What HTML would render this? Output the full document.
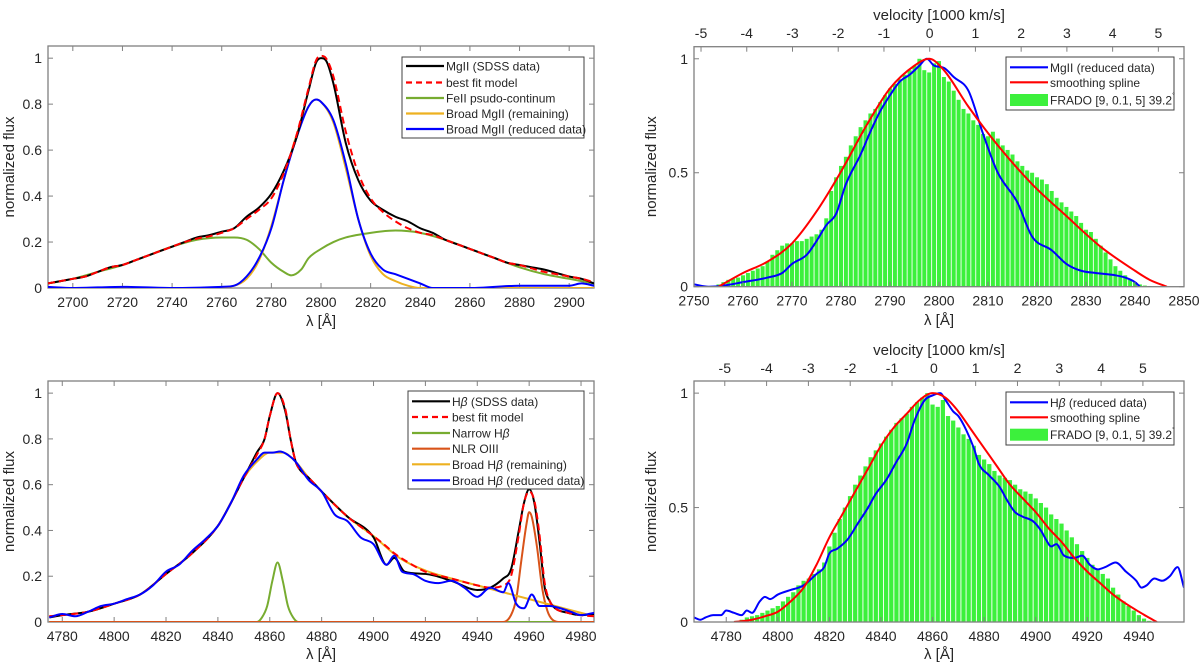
<!DOCTYPE html>
<html><head><meta charset="utf-8">
<style>
html,body{margin:0;padding:0;background:#fff;}
svg{display:block;font-family:"Liberation Sans",Arial,sans-serif;}
</style></head>
<body>
<svg id="fig" width="1200" height="663" viewBox="0 0 1200 663" xmlns="http://www.w3.org/2000/svg"></svg>
<script>
// ---------- Panel A: MgII fit ----------
const mgSdssX=[2690,2695,2700,2705,2710,2715,2720,2725,2730,2735,2740,2745,2750,2755,2760,2765,2770,2775,2780,2785,2790,2795,2798,2800,2802,2805,2810,2815,2820,2825,2830,2835,2840,2845,2850,2855,2860,2865,2870,2875,2880,2885,2890,2895,2900,2905,2910];
const mgSdssY=[0.02,0.03,0.04,0.05,0.07,0.09,0.10,0.12,0.14,0.16,0.18,0.20,0.22,0.23,0.245,0.26,0.31,0.35,0.41,0.51,0.65,0.86,0.98,1.0,0.99,0.89,0.63,0.47,0.38,0.34,0.31,0.29,0.26,0.24,0.21,0.19,0.17,0.15,0.13,0.11,0.10,0.09,0.08,0.065,0.05,0.04,0.02];
const mgFitY=[0.02,0.03,0.04,0.05,0.07,0.09,0.10,0.12,0.14,0.16,0.18,0.20,0.215,0.225,0.24,0.26,0.30,0.34,0.39,0.50,0.66,0.87,0.99,1.01,1.0,0.92,0.68,0.50,0.39,0.33,0.29,0.26,0.24,0.23,0.21,0.19,0.17,0.15,0.13,0.11,0.10,0.085,0.07,0.06,0.05,0.04,0.025];
const mgFeX=[2690,2700,2710,2720,2730,2740,2750,2760,2765,2770,2775,2780,2785,2788,2792,2795,2800,2805,2810,2820,2830,2840,2850,2860,2870,2880,2890,2900,2910];
const mgFeY=[0.02,0.04,0.07,0.10,0.14,0.18,0.21,0.22,0.22,0.21,0.17,0.11,0.07,0.055,0.08,0.13,0.17,0.20,0.22,0.24,0.25,0.24,0.21,0.17,0.13,0.09,0.06,0.04,0.02];
const mgBroadX=[2690,2750,2760,2765,2770,2775,2780,2785,2790,2795,2798,2800,2805,2810,2815,2820,2825,2830,2835,2840,2850,2910];
const mgBroadY=[0,0,0.002,0.01,0.04,0.12,0.27,0.47,0.66,0.79,0.82,0.81,0.72,0.52,0.30,0.14,0.06,0.03,0.01,0,0,0];
const mgRedX=[2690,2700,2720,2740,2760,2765,2770,2775,2780,2785,2790,2795,2798,2800,2805,2810,2815,2820,2825,2830,2835,2840,2845,2860,2880,2900,2905,2910];
const mgRedY=[0.005,0.0,0.005,0.0,0.005,0.01,0.05,0.13,0.26,0.47,0.65,0.79,0.82,0.81,0.73,0.54,0.30,0.15,0.08,0.06,0.04,0.02,0.0,0.0,0.01,0.01,0.02,0.01];

// ---------- Panel B: MgII profile vs FRADO ----------
const bMgSplineX=[2755,2760,2765,2770,2775,2780,2785,2790,2795,2798,2801,2806,2812,2819,2826,2833,2840,2843,2846.5];
const bMgSplineY=[0,0.06,0.11,0.19,0.33,0.505,0.70,0.87,0.97,1.0,0.95,0.79,0.62,0.45,0.31,0.175,0.07,0.03,0];
const bMgBlueX=[2750,2753,2756,2760,2765,2768,2770,2773,2775,2777,2779,2781,2784,2786,2788,2790,2792,2794,2796,2797.5,2799,2801,2803,2806,2809,2812,2816,2819,2823,2826,2829,2832,2836,2838,2840,2841];
const bMgBlueY=[0.01,0,0.005,0.02,0.04,0.06,0.10,0.14,0.20,0.27,0.32,0.45,0.58,0.68,0.77,0.84,0.90,0.93,0.97,1.0,0.97,0.96,0.92,0.86,0.67,0.50,0.37,0.22,0.16,0.10,0.07,0.06,0.05,0.04,0.02,0];
const bMgBarStart=2755;
const bMgBarStep=1;
const bMgBars=[0.01,0.02,0.03,0.035,0.04,0.05,0.06,0.07,0.08,0.09,0.11,0.14,0.16,0.18,0.19,0.19,0.2,0.2,0.21,0.22,0.23,0.25,0.3,0.42,0.48,0.53,0.57,0.62,0.66,0.7,0.73,0.76,0.78,0.81,0.84,0.87,0.89,0.91,0.93,0.95,0.97,1.0,0.95,0.94,0.98,0.99,0.92,0.9,0.86,0.82,0.78,0.76,0.73,0.71,0.67,0.66,0.68,0.65,0.62,0.6,0.58,0.55,0.53,0.51,0.5,0.48,0.47,0.45,0.42,0.39,0.37,0.35,0.33,0.31,0.28,0.25,0.24,0.21,0.18,0.15,0.12,0.09,0.07,0.05,0.03,0.02,0.01,0.005,0.003,0.002,0.001];
const velTicks=[-5,-4,-3,-2,-1,0,1,2,3,4,5];

// ---------- Panel C: Hbeta fit ----------
const hbBroadX=[4775,4780,4790,4800,4810,4820,4830,4840,4845,4850,4855,4860,4865,4870,4875,4880,4890,4900,4910,4920,4930,4940,4950,4960,4970,4980,4985];
const hbBroadY=[0.025,0.03,0.045,0.08,0.12,0.21,0.30,0.42,0.52,0.63,0.70,0.74,0.74,0.70,0.63,0.57,0.46,0.375,0.28,0.225,0.19,0.16,0.13,0.10,0.07,0.04,0.025];
const hbSdssX=[4775,4780,4790,4800,4810,4820,4830,4840,4845,4850,4855,4858,4860,4863,4866,4868,4870,4872,4875,4880,4890,4900,4905,4908,4912,4920,4930,4940,4945,4950,4953,4956,4958,4960,4962,4964,4966,4968,4970,4975,4980,4985];
const hbSdssY=[0.02,0.03,0.045,0.08,0.12,0.21,0.30,0.42,0.52,0.63,0.74,0.80,0.90,1.0,0.92,0.80,0.70,0.66,0.63,0.57,0.46,0.37,0.25,0.28,0.22,0.21,0.18,0.14,0.15,0.19,0.23,0.40,0.52,0.58,0.52,0.35,0.15,0.09,0.06,0.04,0.03,0.035];
const hbFitY=[0.025,0.03,0.045,0.08,0.12,0.21,0.30,0.42,0.52,0.63,0.73,0.80,0.90,1.0,0.93,0.80,0.70,0.66,0.63,0.57,0.46,0.375,0.33,0.30,0.27,0.22,0.19,0.16,0.15,0.16,0.20,0.38,0.52,0.57,0.53,0.38,0.17,0.09,0.06,0.04,0.03,0.025];
const hbNarrowX=[4775,4855,4857,4859,4861,4863,4865,4867,4869,4871,4985];
const hbNarrowY=[0,0,0.02,0.07,0.18,0.26,0.18,0.07,0.02,0,0];
const hbOiiiX=[4775,4950,4953,4955,4957,4959,4960,4961,4963,4965,4967,4969,4972,4985];
const hbOiiiY=[0,0,0.03,0.10,0.27,0.43,0.48,0.46,0.33,0.15,0.05,0.01,0,0];
const hbBlueX=[4775,4780,4785,4790,4795,4800,4805,4810,4815,4820,4825,4830,4835,4840,4845,4850,4855,4858,4861,4864,4867,4870,4875,4880,4885,4890,4895,4900,4905,4908,4911,4915,4920,4925,4930,4935,4940,4945,4950,4952,4955,4958,4961,4964,4968,4972,4976,4980,4985];
const hbBlueY=[0.02,0.035,0.025,0.045,0.07,0.08,0.10,0.12,0.16,0.22,0.25,0.31,0.36,0.42,0.52,0.64,0.71,0.74,0.74,0.745,0.73,0.70,0.62,0.57,0.47,0.44,0.37,0.34,0.25,0.29,0.22,0.21,0.18,0.17,0.18,0.15,0.11,0.15,0.13,0.17,0.08,0.06,0.12,0.07,0.07,0.06,0.045,0.03,0.04];

// ---------- Panel D: Hbeta profile vs FRADO ----------
const dHbSplineX=[4783,4790,4795,4800,4805,4810,4815,4820,4825,4830,4835,4840,4845,4850,4855,4860,4865,4870,4875,4880,4885,4890,4895,4900,4905,4910,4915,4920,4925,4930,4935,4940,4943,4947];
const dHbSplineY=[0,0.01,0.025,0.045,0.09,0.15,0.25,0.37,0.47,0.57,0.67,0.77,0.85,0.91,0.97,1.0,0.98,0.92,0.84,0.76,0.68,0.60,0.54,0.48,0.41,0.35,0.28,0.22,0.17,0.12,0.08,0.045,0.025,0];
const dHbBlueX=[4767.5,4770,4772,4775,4778,4780,4783,4786,4788,4790,4793,4795,4797,4800,4805,4808,4810,4815,4818,4820,4823,4827,4831,4835,4838,4842,4846,4850,4853,4857,4860,4863,4865,4868,4870,4873,4876,4878,4882,4886,4889,4892,4895,4899,4902,4904,4906,4908,4911,4915,4918,4921,4924,4927,4931,4935,4939,4941,4943,4946,4949,4952,4955,4957.5];
const dHbBlueY=[0.02,0.01,0.02,0.03,0.03,0.05,0.04,0.03,0.05,0.04,0.09,0.11,0.10,0.12,0.14,0.15,0.16,0.21,0.24,0.30,0.32,0.36,0.43,0.50,0.56,0.62,0.70,0.78,0.88,0.97,0.99,1.0,0.97,0.92,0.90,0.84,0.76,0.69,0.64,0.59,0.53,0.48,0.46,0.44,0.40,0.36,0.33,0.34,0.29,0.28,0.29,0.25,0.23,0.24,0.26,0.22,0.18,0.15,0.16,0.19,0.18,0.20,0.24,0.15];
const dHbBarStart=4784;
const dHbBarStep=2;
const dHbBars=[0.005,0.01,0.02,0.025,0.03,0.04,0.05,0.06,0.07,0.09,0.11,0.13,0.16,0.18,0.19,0.21,0.23,0.26,0.33,0.39,0.45,0.5,0.55,0.6,0.64,0.68,0.72,0.75,0.78,0.81,0.84,0.87,0.89,0.91,0.94,0.96,0.98,1.0,0.95,0.94,0.97,0.9,0.88,0.85,0.82,0.8,0.77,0.73,0.71,0.69,0.66,0.64,0.63,0.62,0.6,0.58,0.57,0.56,0.54,0.52,0.5,0.47,0.45,0.43,0.4,0.37,0.34,0.31,0.28,0.25,0.23,0.21,0.19,0.15,0.12,0.09,0.07,0.05,0.03,0.015,0.005];

const NS='http://www.w3.org/2000/svg';
const svg=document.getElementById('fig');
function mk(tag,attrs,parent){const e=document.createElementNS(NS,tag);for(const k in attrs)e.setAttribute(k,attrs[k]);(parent||svg).appendChild(e);return e;}
function txt(str,attrs,parent){const t=mk('text',attrs,parent);t.textContent=str;return t;}

function makeAxes(id,box,xlim,ylim){
  const sx=v=>box.x+(v-xlim[0])/(xlim[1]-xlim[0])*box.w;
  const sy=v=>box.y+box.h-(v-ylim[0])/(ylim[1]-ylim[0])*box.h;
  const cp=mk('clipPath',{id:'clip'+id});
  mk('rect',{x:box.x,y:box.y,width:box.w,height:box.h},cp);
  return {sx,sy,box,clip:'url(#clip'+id+')'};
}
function smoothPath(xs,ys,ax){
  const X=xs.map(ax.sx),Y=ys.map(ax.sy),n=X.length;
  const d=[],m=new Array(n);
  for(let i=0;i<n-1;i++)d.push((Y[i+1]-Y[i])/(X[i+1]-X[i]));
  m[0]=d[0];m[n-1]=d[n-2];
  for(let i=1;i<n-1;i++){m[i]=(d[i-1]*d[i]<=0)?0:(d[i-1]+d[i])/2;}
  for(let i=0;i<n-1;i++){
    if(d[i]===0){m[i]=0;m[i+1]=0;continue;}
    const a=m[i]/d[i],b=m[i+1]/d[i],s=a*a+b*b;
    if(s>9){const t=3/Math.sqrt(s);m[i]=t*a*d[i];m[i+1]=t*b*d[i];}
  }
  let p='M'+X[0].toFixed(2)+','+Y[0].toFixed(2);
  for(let i=0;i<n-1;i++){
    const h=(X[i+1]-X[i])/3;
    p+='C'+(X[i]+h).toFixed(2)+','+(Y[i]+m[i]*h).toFixed(2)+' '+(X[i+1]-h).toFixed(2)+','+(Y[i+1]-m[i+1]*h).toFixed(2)+' '+X[i+1].toFixed(2)+','+Y[i+1].toFixed(2);
  }
  return p;
}
function drawLine(ax,xs,ys,color,name,extra){
  const a={d:smoothPath(xs,ys,ax),fill:'none',stroke:color,'stroke-width':2,'clip-path':ax.clip,'stroke-linejoin':'round'};
  if(extra)for(const k in extra)a[k]=extra[k];
  const e=mk('path',a);
  
  
  return e;
}
function drawBars(ax,start,step,vals,name){
  const g=mk('g',{'clip-path':ax.clip});
  
  
  const bw=(ax.sx(start+step)-ax.sx(start))*0.82;
  vals.forEach((v,i)=>{
    const cx=ax.sx(start+i*step);
    const r=mk('rect',{x:(cx-bw/2).toFixed(2),y:ax.sy(v).toFixed(2),width:bw.toFixed(2),height:(ax.sy(0)-ax.sy(v)).toFixed(2),fill:'#3cf03c'},g);
    
    
  });
}
function frame(ax,xticks,yticks,yfmt,xlabelY,ylabelX,topTicks){
  const b=ax.box;
  const g=mk('g',{});
  
  
  mk('rect',{x:b.x,y:b.y,width:b.w,height:b.h,fill:'none',stroke:'#808080','stroke-width':1.3},g);
  xticks.forEach(v=>{
    const x=ax.sx(v);
    mk('line',{x1:x,y1:b.y+b.h,x2:x,y2:b.y+b.h-5,stroke:'#808080','stroke-width':1},g);
    if(!topTicks) mk('line',{x1:x,y1:b.y,x2:x,y2:b.y+5,stroke:'#808080','stroke-width':1},g);
    const t=txt(String(v),{x:x,y:b.y+b.h+19,'text-anchor':'middle','font-size':14,fill:'#262626'},g);
    
    
  });
  yticks.forEach(v=>{
    const y=ax.sy(v);
    mk('line',{x1:b.x,y1:y,x2:b.x+5,y2:y,stroke:'#808080','stroke-width':1},g);
    mk('line',{x1:b.x+b.w,y1:y,x2:b.x+b.w-5,y2:y,stroke:'#808080','stroke-width':1},g);
    const t=txt(yfmt(v),{x:b.x-6,y:y+5,'text-anchor':'end','font-size':14,fill:'#262626'},g);
    
    
  });
  const xl=txt('λ [Å]',{x:b.x+b.w/2,y:xlabelY,'text-anchor':'middle','font-size':15,fill:'#262626'});
  
  
  const yc=b.y+b.h/2;
  const yl=txt('normalized flux',{x:ylabelX,y:yc,'text-anchor':'middle','font-size':15,fill:'#262626',transform:'rotate(-90 '+ylabelX+' '+yc+')'});
  
  
}
function velocityAxis(ax,lam0,tickY,titleY){
  const b=ax.box;
  const g=mk('g',{});
  
  
  velTicks.forEach(v=>{
    const x=ax.sx(lam0*(1+v/299.792));
    mk('line',{x1:x,y1:b.y,x2:x,y2:b.y+5,stroke:'#808080','stroke-width':1},g);
    const t=txt(String(v),{x:x,y:tickY,'text-anchor':'middle','font-size':14,fill:'#262626'},g);
    
    
  });
  const tt=txt('velocity [1000 km/s]',{x:b.x+b.w/2,y:titleY,'text-anchor':'middle','font-size':15,fill:'#262626'},g);
  
  
}
function legend(x,y,w,h,rows,rowY,name){
  const g=mk('g',{});
  
  
  mk('rect',{x:x,y:y,width:w,height:h,fill:'#fff',stroke:'#404040','stroke-width':1},g);
  rows.forEach((r,i)=>{
    const yy=rowY[i];
    if(r.patch){mk('rect',{x:x+4,y:yy-6,width:38,height:12,fill:'#3cf03c'},g);}
    else{const a={x1:x+4,y1:yy,x2:x+42,y2:yy,stroke:r.c,'stroke-width':2.2};if(r.dash)a['stroke-dasharray']='6 4';mk('line',a,g);}
    const t=mk('text',{x:x+44,y:yy+4.5,'font-size':12,fill:'#262626'},g);
    t.innerHTML=r.t;
    
    
  });
}
const YMAX=1.053;
const f1=v=>v===0?'0':v===1?'1':String(v);

// Panel A
const A=makeAxes('A',{x:48,y:46,w:546,h:242},[2690,2910],[0,YMAX]);
frame(A,[2700,2720,2740,2760,2780,2800,2820,2840,2860,2880,2900],[0,0.2,0.4,0.6,0.8,1],f1,326,14,false);
drawLine(A,mgFeX,mgFeY,'#77ac30','feii-pseudo-continuum');
drawLine(A,mgBroadX,mgBroadY,'#edb120','broad-mgii-remaining');
drawLine(A,mgRedX,mgRedY,'#0000ff','broad-mgii-reduced');
drawLine(A,mgSdssX,mgSdssY,'#000','mgii-sdss-data');
drawLine(A,mgSdssX,mgFitY,'#ff0000','best-fit-model',{'stroke-dasharray':'7 4'});
legend(402,57,182,81,[{c:'#000',t:'MgII (SDSS data)'},{c:'#f00',dash:1,t:'best fit model'},{c:'#77ac30',t:'FeII psudo-continum'},{c:'#edb120',t:'Broad MgII (remaining)'},{c:'#0000ff',t:'Broad MgII (reduced data)'}],[66,82.5,98,113.5,129],'legend-mgii-fit');

// Panel B
const B=makeAxes('B',{x:694,y:46.7,w:490,h:240},[2750,2850],[0,YMAX]);
drawBars(B,bMgBarStart,bMgBarStep,bMgBars,'frado-bars-mgii');
drawLine(B,bMgBlueX,bMgBlueY,'#0000ff','mgii-reduced-data');
drawLine(B,bMgSplineX,bMgSplineY,'#ff0000','smoothing-spline');
frame(B,[2750,2760,2770,2780,2790,2800,2810,2820,2830,2840,2850],[0,0.5,1],f1,325,656,true);
velocityAxis(B,2798.1,38,20);
legend(1006,57,168,53,[{c:'#0000ff',t:'MgII (reduced data)'},{c:'#f00',t:'smoothing spline'},{patch:1,t:'FRADO [9, 0.1, 5] 39.2<tspan dy="-7" font-size="7">°</tspan>'}],[67.3,82.3,100],'legend-mgii-frado');

// Panel C
const C=makeAxes('C',{x:48,y:381,w:546,h:241},[4774.5,4985],[0,YMAX]);
frame(C,[4780,4800,4820,4840,4860,4880,4900,4920,4940,4960,4980],[0,0.2,0.4,0.6,0.8,1],f1,659,14,false);
drawLine(C,hbNarrowX,hbNarrowY,'#77ac30','narrow-hbeta');
drawLine(C,hbOiiiX,hbOiiiY,'#d95319','nlr-oiii');
drawLine(C,hbBroadX,hbBroadY,'#edb120','broad-hbeta-remaining');
drawLine(C,hbSdssX,hbSdssY,'#000','hbeta-sdss-data');
drawLine(C,hbSdssX,hbFitY,'#ff0000','hbeta-best-fit-model',{'stroke-dasharray':'7 4'});
drawLine(C,hbBlueX,hbBlueY,'#0000ff','broad-hbeta-reduced');
legend(408,391,176,98,[{c:'#000',t:'H<tspan font-style="italic">β</tspan> (SDSS data)'},{c:'#f00',dash:1,t:'best fit model'},{c:'#77ac30',t:'Narrow H<tspan font-style="italic">β</tspan>'},{c:'#d95319',t:'NLR OIII'},{c:'#edb120',t:'Broad H<tspan font-style="italic">β</tspan> (remaining)'},{c:'#0000ff',t:'Broad H<tspan font-style="italic">β</tspan> (reduced data)'}],[401.3,417,433,448.7,464.3,480.3],'legend-hbeta-fit');

// Panel D
const D=makeAxes('D',{x:694,y:381,w:490,h:241},[4767.5,4957.5],[0,YMAX]);
drawBars(D,dHbBarStart,dHbBarStep,dHbBars,'frado-bars-hbeta');
drawLine(D,dHbBlueX,dHbBlueY,'#0000ff','hbeta-reduced-data');
drawLine(D,dHbSplineX,dHbSplineY,'#ff0000','hbeta-smoothing-spline');
frame(D,[4780,4800,4820,4840,4860,4880,4900,4920,4940],[0,0.5,1],f1,659,656,true);
velocityAxis(D,4860.5,373,355);
legend(1006,392,168,53,[{c:'#0000ff',t:'H<tspan font-style="italic">β</tspan> (reduced data)'},{c:'#f00',t:'smoothing spline'},{patch:1,t:'FRADO [9, 0.1, 5] 39.2<tspan dy="-7" font-size="7">°</tspan>'}],[402.3,417.3,434.7],'legend-hbeta-frado');
</script>
</body></html>
